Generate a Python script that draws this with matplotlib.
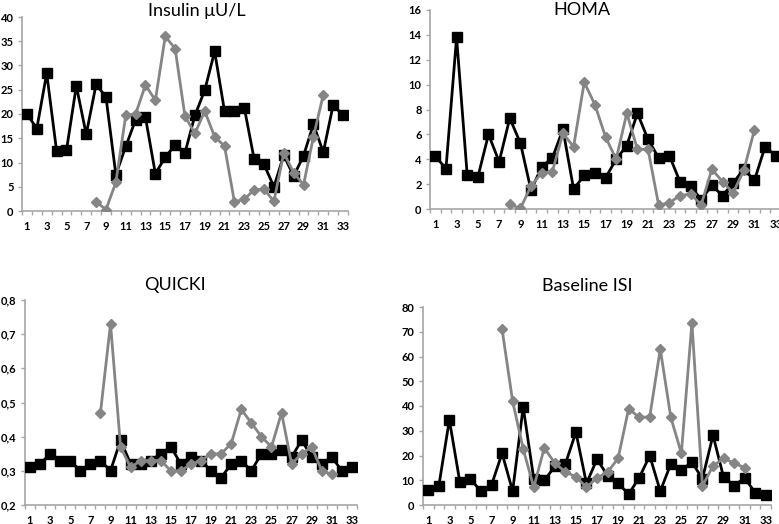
import matplotlib.pyplot as plt
import numpy as np

# subject number on x axis
subjects = list(range(1, 34))
subjects_grey = list(range(8, 32))

insulin_black = [20, 17, 28.4, 12.4, 12.5, 25.8, 15.8, 26.1, 23.5, 7.5, 13.3, 18.8, 19.3,
                 7.7, 11.1, 13.6, 12.0, 19.7, 24.9, 32.9, 20.6, 20.6, 21.3, 10.7, 9.6,
                 5.0, 11.5, 7.2, 11.4, 17.9, 12.1, 21.9, 19.7]
insulin_grey = [1.9, 0.3, 5.9, 19.7, 20.0, 26.0, 22.8, 36.0, 33.5, 19.5, 16.0, 20.6,
                15.3, 13.4, 1.9, 2.4, 4.4, 4.5, 2.0, 12.0, 7.9, 5.4, 15.3, 24.0]

homa_black = [4.26, 3.24, 13.8, 2.7, 2.57, 6.0, 3.8, 7.3, 5.3, 1.5, 3.4, 4.1, 6.4, 1.6,
              2.7, 2.9, 2.5, 4.0, 5.1, 7.7, 5.6, 4.1, 4.3, 2.2, 1.85, 0.75, 1.9, 1.07,
              2.1, 3.2, 2.3, 5.0, 4.3]
homa_grey = [0.37, 0.05, 1.85, 2.9, 3.0, 6.1, 5.0, 10.2, 8.4, 5.8, 4.0, 7.7, 4.8, 4.8,
             0.3, 0.5, 1.07, 1.2, 0.35, 3.2, 2.2, 1.3, 3.1, 6.35]

quicki_black = [0.31, 0.32, 0.35, 0.33, 0.33, 0.30, 0.32, 0.33, 0.30, 0.39, 0.32, 0.32,
                0.33, 0.35, 0.37, 0.32, 0.34, 0.33, 0.30, 0.28, 0.32, 0.33, 0.30, 0.35,
                0.35, 0.36, 0.34, 0.39, 0.34, 0.32, 0.34, 0.30, 0.31]
quicki_grey = [0.47, 0.73, 0.37, 0.31, 0.33, 0.33, 0.33, 0.30, 0.30, 0.32, 0.33, 0.35,
               0.35, 0.38, 0.48, 0.44, 0.40, 0.37, 0.47, 0.32, 0.35, 0.37, 0.30, 0.29]

isi_black = [5.9, 7.7, 34.4, 9.1, 10.5, 5.5, 8.1, 20.9, 5.6, 39.6, 10.7, 9.9, 15.6, 16.6,
             29.4, 8.7, 18.5, 11.9, 8.7, 4.4, 11.0, 19.9, 5.6, 16.6, 14.1, 17.3, 10.6,
             28.2, 11.3, 7.8, 10.9, 5.0, 4.0]
isi_grey = [71.0, 41.9, 22.7, 7.1, 23.1, 16.9, 13.4, 11.4, 7.2, 10.9, 13.3, 18.8, 38.9,
            35.4, 35.6, 63.0, 35.4, 20.9, 73.6, 7.7, 15.8, 18.8, 17.0, 15.0]

GREY = '#858585'
AXIS = '#a6a6a6'
FONT = ['Lato', 'DejaVu Sans']

fig = plt.figure(figsize=(7.79, 5.24), dpi=100)


def panel(rect, black, grey, ylim, yticks, ylabels, title, title_xy):
    ax = fig.add_axes(rect)
    ax.plot(subjects, black, color='black', lw=2.0, marker='s', ms=7.5, zorder=3)
    ax.plot(subjects_grey, grey, color=GREY, lw=2.0, marker='D', ms=5, zorder=4)
    ax.set_xlim(0.5, 33.5)
    ax.set_ylim(*ylim)
    for s in ['top', 'right']:
        ax.spines[s].set_visible(False)
    for s in ['left', 'bottom']:
        ax.spines[s].set_color(AXIS)
        ax.spines[s].set_linewidth(1.2)
    ax.set_xticks(range(1, 34, 2))
    ax.set_xticklabels([str(i) for i in range(1, 34, 2)], fontsize=8,
                       fontweight='bold', family=FONT)
    ax.set_xticks(np.arange(0.5, 34, 1), minor=True)
    ax.tick_params(axis='x', which='major', length=0, pad=7)
    ax.tick_params(axis='x', which='minor', length=3, color=AXIS, width=1)
    ax.set_yticks(yticks)
    ax.set_yticklabels(ylabels, fontsize=8, fontweight='bold', family=FONT)
    ax.tick_params(axis='y', length=3, color=AXIS, width=1, pad=3)
    fig.text(title_xy[0] / 779, 1 - title_xy[1] / 524, title, ha='center', va='center',
             fontsize=13, family=FONT)
    return ax


panel([22 / 779, 1 - 211 / 524, 326 / 779, 194 / 524], insulin_black, insulin_grey,
      (0, 40), range(0, 41, 5), [str(v) for v in range(0, 41, 5)],
      'Insulin \u03bcU/L', (197, 11))
panel([430 / 779, 1 - 209 / 524, 351 / 779, 199 / 524], homa_black, homa_grey,
      (0, 16), range(0, 17, 2), [str(v) for v in range(0, 17, 2)],
      'HOMA', (582, 10))
qt = [0.2, 0.3, 0.4, 0.5, 0.6, 0.7, 0.8]
panel([25 / 779, 1 - 505 / 524, 332 / 779, 205 / 524], quicki_black, quicki_grey,
      (0.2, 0.8), qt, [('%.1f' % v).replace('.', ',') for v in qt],
      'QUICKI', (175, 285))
panel([423 / 779, 1 - 505 / 524, 348 / 779, 198 / 524], isi_black, isi_grey,
      (0, 80), range(0, 81, 10), [str(v) for v in range(0, 81, 10)],
      'Baseline ISI', (587, 286))

plt.savefig('out.png', dpi=100)
